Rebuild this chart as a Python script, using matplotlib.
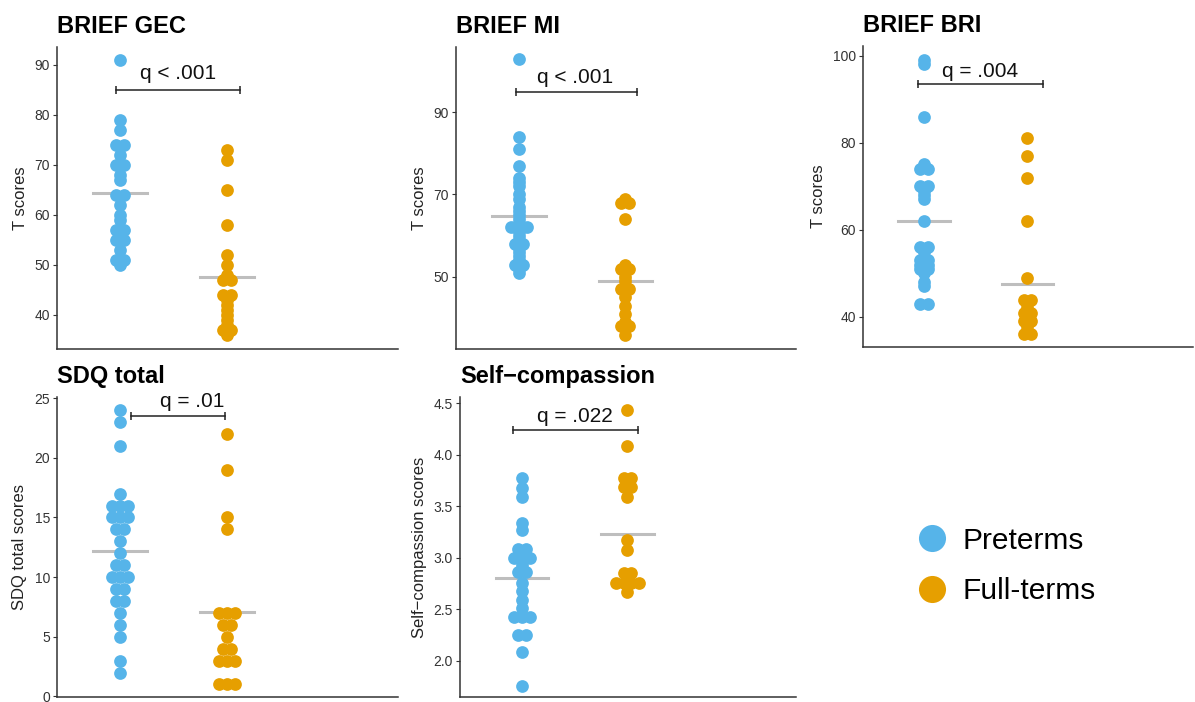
import numpy as np
import matplotlib.pyplot as plt
from matplotlib.lines import Line2D

plt.rcParams['font.family'] = ['Liberation Sans', 'DejaVu Sans']

PRE_COLOR = "#56B4E9"
FULL_COLOR = "#E69F00"

# Data
groups = ["Preterms", "Full-terms"]

gec_pre = [91, 79, 77, 74, 74, 72, 70, 70, 68, 67, 64, 64, 62, 60, 59, 57, 57,
           56, 55, 55, 53, 51, 51, 50]
gec_full = [73, 71, 65, 58, 52, 50, 48, 47, 47, 44, 44, 43, 42, 41, 40, 39, 38,
            37, 37, 36]

mi_pre = [103, 84, 81, 77, 74, 73, 72, 70, 69, 67, 66, 65, 64, 63, 62, 62, 62,
          61, 60, 59, 58, 58, 57, 56, 55, 54, 53, 53, 52, 51]
mi_full = [69, 68, 68, 64, 53, 52, 52, 50, 49, 47, 47, 45, 43, 41, 39, 38, 38, 36]

bri_pre = [99, 98, 86, 75, 74, 74, 70, 70, 69, 68, 67, 62, 56, 56, 55, 53, 53,
           52, 52, 51, 51, 50, 48, 47, 43, 43]
bri_full = [81, 77, 72, 62, 49, 44, 44, 43, 42, 41, 41, 40, 39, 39, 38, 37, 36, 36]

sdq_pre = [24, 23, 21, 17, 16, 16, 16, 15, 15, 15, 14, 14, 13, 12, 11, 11, 10,
           10, 10, 9, 9, 8, 8, 7, 6, 5, 3, 2]
sdq_full = [22, 19, 15, 14, 7, 7, 7, 6, 6, 5, 4, 4, 3, 3, 3, 1, 1, 1]

sc_pre = [3.77, 3.68, 3.59, 3.34, 3.27, 3.09, 3.09, 3.0, 3.0, 3.0, 2.93, 2.86,
          2.86, 2.76, 2.68, 2.59, 2.51, 2.43, 2.43, 2.43, 2.25, 2.25, 2.09, 1.76]
sc_full = [4.43, 4.08, 3.77, 3.77, 3.69, 3.69, 3.59, 3.17, 3.08, 2.85, 2.85,
           2.76, 2.76, 2.76, 2.76, 2.67]

# group means (grey bars)
gec_means = [64.5, 47.7]
mi_means = [64.8, 49.1]
bri_means = [62.0, 47.5]
sdq_means = [12.2, 7.05]
sc_means = [2.80, 3.23]

titles = ["BRIEF GEC", "BRIEF MI", "BRIEF BRI", "SDQ total", "Self\u2212compassion"]
ylabels = ["T scores", "T scores", "T scores", "SDQ total scores",
           "Self\u2212compassion scores"]
q_labels = ["q < .001", "q < .001", "q = .004", "q = .01", "q = .022"]

# Layout / annotation positions
positions = [
    [57, 47, 398, 349], [456, 47, 796, 349], [863, 46, 1193, 347],
    [57, 397, 398, 697], [460, 397, 796, 697],
]
ylims = [(33.2, 93.6), (32.5, 105.8), (33.1, 102.2), (-0.05, 25.1), (1.65, 4.56)]
yticks = [[40, 50, 60, 70, 80, 90], [50, 70, 90], [40, 60, 80, 100],
          [0, 5, 10, 15, 20, 25], [2.0, 2.5, 3.0, 3.5, 4.0, 4.5]]
brackets = [(0.96, 2.12, 85.0), (0.97, 2.11, 94.8), (0.94, 2.15, 93.5),
            (1.10, 1.98, 23.5), (0.91, 2.10, 4.24)]
q_pos = [(1.54, 88.3), (1.53, 98.5), (1.54, 96.3), (1.67, 24.75), (1.50, 4.37)]

data = [(gec_pre, gec_full), (mi_pre, mi_full), (bri_pre, bri_full),
        (sdq_pre, sdq_full), (sc_pre, sc_full)]
means = [gec_means, mi_means, bri_means, sdq_means, sc_means]

W, H = 1195, 702
fig = plt.figure(figsize=(W / 100, H / 100), dpi=100)


def stack(values, center, step=0.075):
    xs, ys = [], []
    vals, counts = np.unique(values, return_counts=True)
    for v, n in zip(vals, counts):
        offs = (np.arange(n) - (n - 1) / 2) * step
        xs.extend(center + offs)
        ys.extend([v] * n)
    return xs, ys


for i in range(5):
    l, t, r, b = positions[i]
    ax = fig.add_axes([l / W, 1 - b / H, (r - l) / W, (b - t) / H])
    pre, full = data[i]
    for g, (vals, col) in enumerate([(pre, PRE_COLOR), (full, FULL_COLOR)]):
        x0 = g + 1
        ax.plot([x0 - 0.25, x0 + 0.25], [means[i][g]] * 2, color="#BEBEBE",
                lw=2.2, zorder=1)
        xs, ys = stack(vals, x0)
        ax.scatter(xs, ys, s=84, color=col, linewidths=0, zorder=2)

    x1, x2, yb = brackets[i]
    ax.plot([x1, x2], [yb, yb], color="#222222", lw=1.1, clip_on=False)
    ax.plot([x1, x2], [yb, yb], color="#222222", marker="|", markersize=6,
            linestyle="none", mew=1.1, clip_on=False)
    ax.text(q_pos[i][0], q_pos[i][1], q_labels[i], ha="center", va="center",
            fontsize=15, color="#111111", clip_on=False)

    ax.set_xlim(0.41, 3.6)
    ax.set_ylim(*ylims[i])
    ax.set_yticks(yticks[i])
    if i == 4:
        ax.set_yticklabels([f"{v:.1f}" for v in yticks[i]])
    ax.set_xticks([])
    for side in ["top", "right"]:
        ax.spines[side].set_visible(False)
    for side in ["left", "bottom"]:
        ax.spines[side].set_color("#333333")
        ax.spines[side].set_linewidth(1.1)
    ax.tick_params(axis="y", length=3, width=0.8, color="#333333",
                   labelsize=10, labelcolor="#333333", pad=2)
    ax.set_ylabel(ylabels[i], fontsize=12, color="#222222", labelpad=5)
    ax.set_title(titles[i], loc="left", fontsize=17, fontweight="bold", pad=10)
    ax.patch.set_alpha(0)

handles = [Line2D([], [], marker="o", linestyle="none", markersize=19.5,
                  markerfacecolor=c, markeredgewidth=0)
           for c in [PRE_COLOR, FULL_COLOR]]
fig.legend(handles, groups, loc="center left", bbox_to_anchor=(917 / W, 1 - 566 / H),
           frameon=False, fontsize=21.5, handlelength=1.0, handletextpad=0.53,
           labelspacing=0.75, borderpad=0, borderaxespad=0)

fig.savefig("out.png", dpi=100)
